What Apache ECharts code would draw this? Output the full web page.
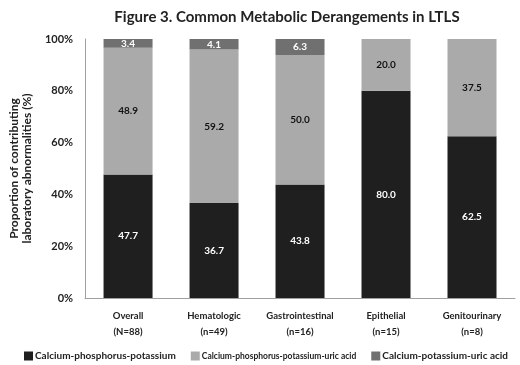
<!DOCTYPE html>
<html><head><meta charset="utf-8">
<script src="https://cdn.jsdelivr.net/npm/echarts@6/dist/echarts.min.js"></script>
<style>html,body{margin:0;padding:0;background:#fff}#c{width:520px;height:365px}</style>
</head><body><div id="c"></div>
<script>
const categories = ['Overall\n(N=88)', 'Hematologic\n(n=49)', 'Gastrointestinal\n(n=16)', 'Epithelial\n(n=15)', 'Genitourinary\n(n=8)'];
const seriesNames = ['Calcium-phosphorus-potassium', 'Calcium-phosphorus-potassium-uric acid', 'Calcium-potassium-uric acid'];
const cppValues = [47.7, 36.7, 43.8, 80.0, 62.5];
const cppuValues = [48.9, 59.2, 50.0, 20.0, 37.5];
const cpuValues = [3.4, 4.1, 6.3, 0, 0];
const yTicks = [0, 20, 40, 60, 80, 100];

const font = 'Lato, "Open Sans", sans-serif';
const colors = ['#1f1f1f', '#a9aaa9', '#707070'];
const labelColors = ['#ffffff', '#111111', '#ffffff'];
const legendFontSizes = [10, 8.5, 10];
const values = [cppValues, cppuValues, cpuValues];

const chart = echarts.init(document.getElementById('c'), null, {renderer: 'canvas'});
chart.setOption({
  animation: false,
  backgroundColor: '#fff',
  title: {
    text: 'Figure 3. Common Metabolic Derangements in LTLS',
    left: 282, top: 5, textAlign: 'center',
    textStyle: {fontFamily: font, fontWeight: 'bold', fontSize: 15, color: '#222'}
  },
  legend: {
    left: 19, top: 346, width: 700, itemWidth: 9, itemHeight: 9, itemGap: 15,
    icon: 'rect',
    textStyle: {fontFamily: font, fontWeight: 'bold', fontSize: 10, color: '#222', padding: [0, 0, 0, -3]},
    data: seriesNames.map((n, i) => ({name: n, textStyle: {fontSize: legendFontSizes[i]}}))
  },
  grid: {left: 70, right: 5, top: 39, bottom: 67, containLabel: false},
  xAxis: {
    type: 'category', data: categories,
    axisLine: {lineStyle: {color: '#a0a0a0'}},
    axisTick: {show: false},
    axisLabel: {interval: 0, fontFamily: font, fontWeight: 'bold', fontSize: 9.5, color: '#222', lineHeight: 16, margin: 10}
  },
  yAxis: {
    type: 'value', min: 0, max: 100, interval: 20,
    name: 'Proportion of contributing\nlaboratory abnormalities (%)',
    nameLocation: 'middle', nameGap: 46,
    nameTextStyle: {fontFamily: font, fontWeight: 'bold', fontSize: 12, color: '#222', lineHeight: 13},
    axisLine: {show: true, lineStyle: {color: '#a0a0a0'}},
    axisTick: {show: false},
    splitLine: {show: false},
    axisLabel: {fontFamily: font, fontWeight: 'bold', fontSize: 11, color: '#222', margin: 12,
      formatter: v => yTicks.includes(v) ? v + '%' : ''}
  },
  series: seriesNames.map((n, i) => ({
    name: n, type: 'bar', stack: 'total', barWidth: '57%',
    data: values[i],
    itemStyle: {color: colors[i]},
    label: {
      show: true, position: 'inside', color: labelColors[i],
      fontFamily: font, fontWeight: 'bold', fontSize: 10,
      formatter: p => p.value > 0 ? p.value.toFixed(1) : ''
    }
  }))
});
</script></body></html>
